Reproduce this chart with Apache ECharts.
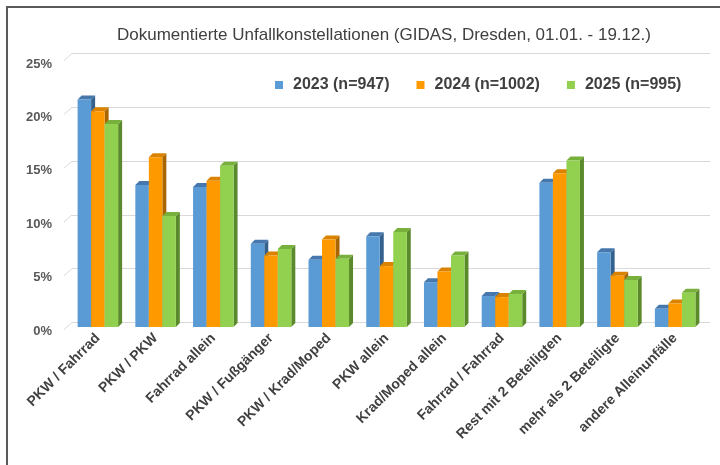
<!DOCTYPE html>
<html>
<head>
<meta charset="utf-8">
<script src="https://cdn.jsdelivr.net/npm/echarts@6/dist/echarts.min.js"></script>
<style>
  html, body { margin: 0; padding: 0; background: #fff; }
  #chart { width: 720px; height: 465px; }
</style>
</head>
<body>
<div id="chart"></div>
<script>
// Kategorien und Werte (Anteil in %)
var categories = ['PKW / Fahrrad', 'PKW / PKW', 'Fahrrad allein', 'PKW / Fußgänger', 'PKW / Krad/Moped',
  'PKW allein', 'Krad/Moped allein', 'Fahrrad / Fahrrad', 'Rest mit 2 Beteiligten',
  'mehr als 2 Beteiligte', 'andere Alleinunfälle']
var v2023 = [21.3, 13.3, 13.1, 7.8, 6.3, 8.5, 4.2, 2.9, 13.5, 7.0, 1.7]
var v2024 = [20.2, 15.9, 13.7, 6.7, 8.2, 5.7, 5.2, 2.8, 14.4, 4.8, 2.2]
var v2025 = [19.0, 10.4, 15.1, 7.3, 6.4, 8.9, 6.7, 3.1, 15.6, 4.4, 3.2]
var seriesNames = ['2023 (n=947)', '2024 (n=1002)', '2025 (n=995)']
var yTicks = [0, 5, 10, 15, 20, 25]

// Farben: Vorderseite, Deckel, Seite
var palette = [
  { front: '#5B9BD5', top: '#4677AD', side: '#35618F' },
  { front: '#FF9900', top: '#D98300', side: '#A86500' },
  { front: '#92D050', top: '#78B03C', side: '#5B8A2C' }
]

const depthX = 4
const depthY = 4

function bar3d(k) {
  return function(params, api) {
    var idx = api.value(0)
    var val = api.value(1)
    var base = api.coord([idx, 0])
    var top = api.coord([idx, val])
    var band = api.size([1, 0])[0]
    var bw = band * 13.5 / 57.7
    var x0 = base[0] - 1.5 * bw + k * bw
    var x1 = x0 + bw
    var ty = top[1]
    var by = base[1]
    var c = palette[k]
    return {
      type: 'group',
      children: [
        { type: 'polygon', shape: { points: [[x1, ty], [x1 + depthX, ty - depthY], [x1 + depthX, by - depthY], [x1, by]] },
          style: { fill: c.side } },
        { type: 'polygon', shape: { points: [[x0, ty], [x1, ty], [x1 + depthX, ty - depthY], [x0 + depthX, ty - depthY]] },
          style: { fill: c.top } },
        { type: 'rect', shape: { x: x0, y: ty, width: bw, height: by - ty },
          style: { fill: c.front } }
      ]
    }
  }
}

// schräge Linien der Seitenwand (von der Beschriftung zur Rückwand)
function wallLine(params, api) {
  var p = api.coord([0, api.value(1)])
  var band = api.size([1, 0])[0]
  var xb = p[0] - band / 2
  return {
    type: 'line',
    shape: { x1: xb - 8, y1: p[1] + 7, x2: xb, y2: p[1] },
    style: { stroke: '#D9D9D9', lineWidth: 1 }
  }
}

function buildSeries() {
  var all = [v2023, v2024, v2025]
  var list = all.map(function(vals, k) {
    return {
      name: seriesNames[k],
      type: 'custom',
      xAxisIndex: 0,
      yAxisIndex: 0,
      itemStyle: { color: palette[k].front },
      renderItem: bar3d(k),
      encode: { x: 0, y: 1 },
      data: vals.map(function(v, i) { return [i, v] }),
      z: 3
    }
  })
  list.push({
    name: 'wand',
    type: 'custom',
    xAxisIndex: 1,
    yAxisIndex: 1,
    renderItem: wallLine,
    encode: { x: 0, y: 1 },
    data: yTicks.map(function(t) { return [0, t] }),
    silent: true,
    z: 1
  })
  return list
}

var chart = echarts.init(document.getElementById('chart'))
chart.setOption({
  animation: false,
  title: {
    text: 'Dokumentierte Unfallkonstellationen (GIDAS, Dresden, 01.01. - 19.12.)',
    left: 112,
    top: 22,
    textStyle: { fontFamily: 'Liberation Sans', fontSize: 17, fontWeight: 'normal', color: '#404040' }
  },
  legend: {
    left: 270,
    top: 72,
    itemWidth: 8,
    itemHeight: 8,
    itemGap: 27,
    icon: 'rect',
    data: seriesNames,
    textStyle: { fontFamily: 'Liberation Sans', fontSize: 16, fontWeight: 'bold', color: '#404040', padding: [0, 0, 0, 5] }
  },
  grid: [
    { left: 69, right: 16, top: 60, bottom: 138 },   // Balken (Vorderkante)
    { left: 72, right: 10, top: 53.5, bottom: 142.5 } // Rückwand mit Gitterlinien
  ],
  xAxis: [{
    type: 'category',
    gridIndex: 0,
    data: categories,
    axisLine: { show: false },
    axisTick: { show: false },
    axisLabel: {
      interval: 0,
      rotate: 45,
      margin: 9,
      fontFamily: 'Liberation Sans',
      fontSize: 14,
      fontWeight: 'bold',
      color: '#404040'
    }
  }, {
    type: 'category',
    gridIndex: 1,
    data: categories,
    show: false
  }],
  yAxis: [{
    type: 'value',
    gridIndex: 0,
    min: 0,
    max: 25,
    interval: 5,
    splitLine: { show: false },
    axisLine: { show: false },
    axisTick: { show: false },
    axisLabel: {
      margin: 17,
      formatter: '{t|{value}%}',
      rich: {
        t: {
          padding: [8, 0, 0, 0],
          fontFamily: 'Liberation Sans',
          fontSize: 13,
          fontWeight: 'bold',
          color: '#595959'
        }
      }
    }
  }, {
    type: 'value',
    gridIndex: 1,
    min: 0,
    max: 25,
    interval: 5,
    axisLine: { show: false },
    axisTick: { show: false },
    axisLabel: { show: false },
    splitLine: { lineStyle: { color: '#D9D9D9', width: 1 } }
  }],
  graphic: [{
    type: 'polyline',
    shape: { points: [[7, 470], [7, 7], [725, 7]] },
    style: { stroke: '#5a5a5a', lineWidth: 2, fill: null }
  }],
  series: buildSeries()
})
</script>
</body>
</html>
